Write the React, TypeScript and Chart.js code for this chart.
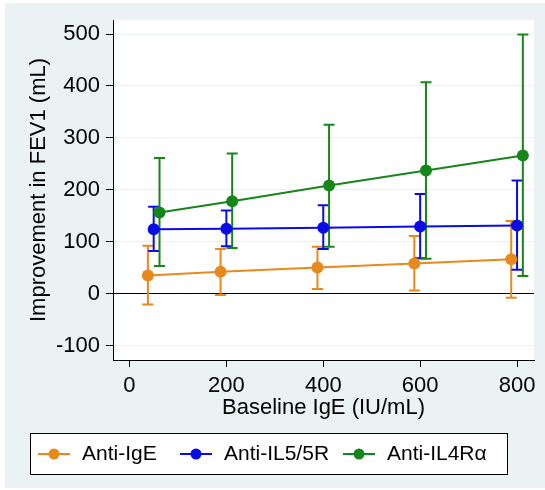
import React, { useEffect, useRef } from "react";
import { Chart, registerables } from "chart.js";

Chart.register(...registerables);

// Series labels and colours
const seriesNames = ["Anti-IgE", "Anti-IL5/5R", "Anti-IL4Rα"];
const seriesColors = ["#E8891E", "#0B0BE8", "#17861A"];

// Anti-IgE: baseline IgE position, mean improvement and 95% CI
const igeX = [38, 188, 388, 588, 788];
const igeMean = [35, 42, 50, 58, 66];
const igeLow = [-21, -3, 9, 6, -8];
const igeHigh = [92, 86, 90, 111, 140];

// Anti-IL5/5R
const il5X = [50, 200, 400, 600, 800];
const il5Mean = [124, 125, 127, 129, 131];
const il5Low = [82, 91, 86, 68, 46];
const il5High = [167, 160, 170, 192, 218];

// Anti-IL4Rα
const il4X = [62, 212, 412, 612, 812];
const il4Mean = [156, 178, 208, 237, 266];
const il4Low = [53, 88, 90, 67, 34];
const il4High = [261, 270, 325, 407, 499];

// Axis ticks
const xTicks = [0, 200, 400, 600, 800];
const yTicks = [-100, 0, 100, 200, 300, 400, 500];

const FONT_FAMILY = "'Liberation Sans', Arial, sans-serif";
const GRAPH_BG = "#EAF2F3";
const CAP_HALF = 5.5;

// Background: bluish graph region plus white plot region
const backgroundPlugin = {
  id: "stataBackground",
  beforeDraw(chart: any) {
    const { ctx, chartArea, width, height } = chart;
    ctx.save();
    ctx.fillStyle = "#ffffff";
    ctx.fillRect(0, 0, width, height);
    ctx.fillStyle = GRAPH_BG;
    ctx.fillRect(5, 3, width - 5, height - 5);
    ctx.fillStyle = "#ffffff";
    ctx.fillRect(
      chartArea.left,
      chartArea.top,
      chartArea.right - chartArea.left,
      chartArea.bottom - chartArea.top
    );
    ctx.restore();
  },
};

// Vertical confidence-interval caps for every dataset
const errorBarPlugin = {
  id: "errorBars",
  beforeDatasetsDraw(chart: any) {
    const { ctx, scales } = chart;
    const xs = scales.x;
    const ys = scales.y;
    chart.data.datasets.forEach((ds: any) => {
      ctx.save();
      ctx.strokeStyle = ds.borderColor;
      ctx.lineWidth = 2;
      ds.data.forEach((pt: any, j: number) => {
        const px = xs.getPixelForValue(pt.x);
        const lo = ys.getPixelForValue(ds.errLow[j]);
        const hi = ys.getPixelForValue(ds.errHigh[j]);
        ctx.beginPath();
        ctx.moveTo(px, lo);
        ctx.lineTo(px, hi);
        ctx.moveTo(px - CAP_HALF, lo);
        ctx.lineTo(px + CAP_HALF, lo);
        ctx.moveTo(px - CAP_HALF, hi);
        ctx.lineTo(px + CAP_HALF, hi);
        ctx.stroke();
      });
      ctx.restore();
    });
  },
};

// Boxed legend below the x-axis title
const legendItemX = [38, 180, 343];
const legendPlugin = {
  id: "boxedLegend",
  afterDraw(chart: any) {
    const { ctx } = chart;
    const box = { left: 30.5, top: 433.5, width: 477, height: 41 };
    const cy = box.top + box.height / 2;
    ctx.save();
    ctx.fillStyle = "#ffffff";
    ctx.fillRect(box.left, box.top, box.width, box.height);
    ctx.strokeStyle = "#000000";
    ctx.lineWidth = 1;
    ctx.strokeRect(box.left, box.top, box.width, box.height);
    ctx.font = `21px ${FONT_FAMILY}`;
    ctx.textBaseline = "middle";
    ctx.textAlign = "left";
    chart.data.datasets.forEach((ds: any, i: number) => {
      const x0 = legendItemX[i];
      ctx.strokeStyle = ds.borderColor;
      ctx.lineWidth = 2;
      ctx.beginPath();
      ctx.moveTo(x0, cy);
      ctx.lineTo(x0 + 32, cy);
      ctx.stroke();
      ctx.fillStyle = ds.borderColor;
      ctx.beginPath();
      ctx.arc(x0 + 16, cy, 5.5, 0, Math.PI * 2);
      ctx.fill();
      ctx.fillStyle = "#000000";
      ctx.fillText(ds.label, x0 + 44, cy);
    });
    ctx.restore();
  },
};

function makeSeries(label: string, color: string, xs: number[], ys: number[], lo: number[], hi: number[]) {
  return {
    label,
    data: xs.map((x, i) => ({ x, y: ys[i] })),
    errLow: lo,
    errHigh: hi,
    borderColor: color,
    backgroundColor: color,
    borderWidth: 2,
    pointRadius: 6,
    pointBorderWidth: 0,
    pointBackgroundColor: color,
    showLine: true,
    tension: 0,
  };
}

export default function App() {
  const canvasRef = useRef<HTMLCanvasElement | null>(null);

  useEffect(() => {
    const canvas = canvasRef.current;
    if (!canvas) return;
    const tickFont = { family: FONT_FAMILY, size: 22, lineHeight: 1.2 };

    const chart = new Chart(canvas, {
      type: "line",
      data: {
        datasets: [
          makeSeries(seriesNames[0], seriesColors[0], igeX, igeMean, igeLow, igeHigh),
          makeSeries(seriesNames[1], seriesColors[1], il5X, il5Mean, il5Low, il5High),
          makeSeries(seriesNames[2], seriesColors[2], il4X, il4Mean, il4Low, il4High),
        ] as any,
      },
      options: {
        animation: false,
        responsive: false,
        maintainAspectRatio: false,
        devicePixelRatio: 1,
        layout: { padding: { top: 20, right: 11, bottom: 69, left: 0 } },
        plugins: {
          legend: { display: false },
          tooltip: { enabled: false },
        },
        scales: {
          x: {
            type: "linear",
            min: -34,
            max: 835,
            afterBuildTicks: (s: any) => {
              s.ticks = xTicks.map((v) => ({ value: v }));
            },
            afterFit: (s: any) => {
              s.height = 61;
            },
            grid: {
              drawOnChartArea: false,
              drawTicks: true,
              tickLength: 7,
              tickColor: "#000000",
              tickWidth: 1,
            },
            border: { color: "#000000", width: 1 },
            ticks: {
              color: "#000000",
              font: tickFont,
              padding: 6,
              maxRotation: 0,
              autoSkip: false,
            },
            title: {
              display: true,
              text: "Baseline IgE (IU/mL)",
              color: "#000000",
              font: tickFont,
              padding: 0,
            },
          },
          y: {
            type: "linear",
            min: -128,
            max: 527,
            afterBuildTicks: (s: any) => {
              s.ticks = yTicks.map((v) => ({ value: v }));
            },
            afterFit: (s: any) => {
              s.width = 113;
            },
            grid: {
              color: (c: any) => (c.tick && c.tick.value === 0 ? "#000000" : GRAPH_BG),
              lineWidth: 1,
              drawTicks: true,
              tickLength: 7,
              tickColor: "#000000",
              tickWidth: 1,
            },
            border: { color: "#000000", width: 1 },
            ticks: {
              color: "#000000",
              font: tickFont,
              padding: 6,
              autoSkip: false,
            },
            title: {
              display: true,
              text: "Improvement in FEV1 (mL)",
              color: "#000000",
              font: tickFont,
              padding: { top: 26, bottom: 0 },
            },
          },
        },
      } as any,
      plugins: [backgroundPlugin, errorBarPlugin, legendPlugin],
    });

    return () => {
      chart.destroy();
    };
  }, []);

  return (
    <div style={{ position: "fixed", left: 0, top: 0, width: 545, height: 490, background: "#ffffff" }}>
      <canvas ref={canvasRef} width={545} height={490} style={{ display: "block", width: 545, height: 490 }} />
    </div>
  );
}
